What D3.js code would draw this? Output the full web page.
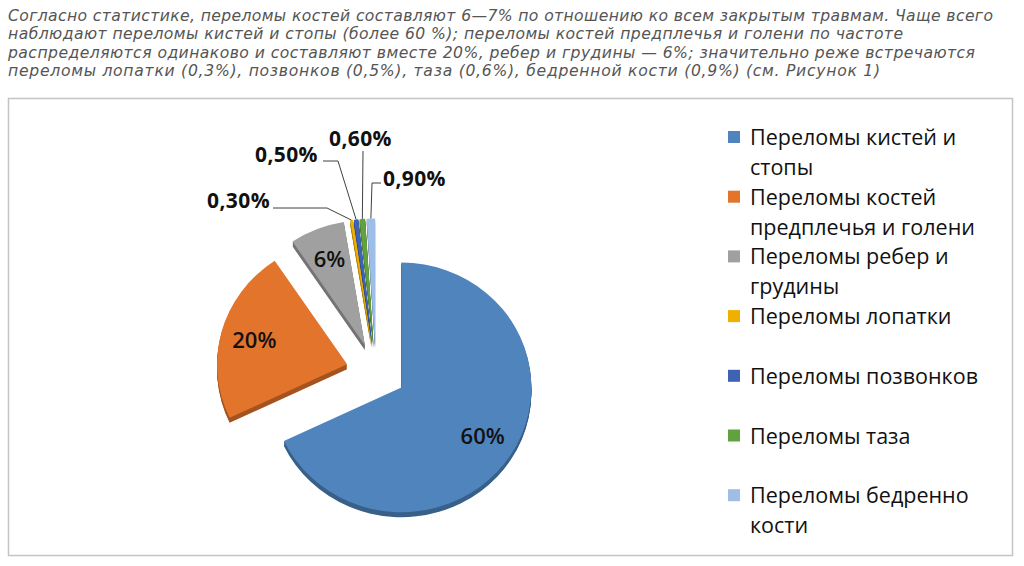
<!DOCTYPE html>
<html>
<head>
<meta charset="utf-8">
<script src="https://cdn.jsdelivr.net/npm/d3@7"></script>
<style>
  body { margin: 0; background: #fff; }
  svg { display: block; }
</style>
</head>
<body>
<div id="chart"></div>
<script>
const width = 1024;
const height = 566;

// Intro paragraph (wrapped as in the source page)
const introLines = [
  "Согласно статистике, переломы костей составляют 6—7% по отношению ко всем закрытым травмам. Чаще всего",
  "наблюдают переломы кистей и стопы (более 60 %); переломы костей предплечья и голени по частоте",
  "распределяются одинаково и составляют вместе 20%, ребер и грудины — 6%; значительно реже встречаются",
  "переломы лопатки (0,3%), позвонков (0,5%), таза (0,6%), бедренной кости (0,9%) (см. Рисунок 1)"
];
const introWidths = [985, 895, 967, 872];

// Chart data
const categories = [
  "Переломы кистей и\nстопы",
  "Переломы костей\nпредплечья и голени",
  "Переломы ребер и\nгрудины",
  "Переломы лопатки",
  "Переломы позвонков",
  "Переломы таза",
  "Переломы бедренно\nкости"
];
const values = [60, 20, 6, 0.3, 0.5, 0.6, 0.9];
const valueLabels = ["60%", "20%", "6%", "0,30%", "0,50%", "0,60%", "0,90%"];
const colors = ["#4f84bd", "#e2742c", "#a0a0a0", "#f0b000", "#3f63b3", "#62a13f", "#9dbfe7"];

const svg = d3.select("#chart").append("svg")
  .attr("width", width)
  .attr("height", height);

// intro text
svg.append("g").selectAll("text")
  .data(introLines)
  .enter().append("text")
  .attr("x", 8)
  .attr("y", (d, i) => 21 + i * 18.4)
  .attr("textLength", (d, i) => introWidths[i])
  .attr("lengthAdjust", "spacing")
  .style("font-family", "'DejaVu Sans', Verdana, sans-serif")
  .style("font-style", "italic")
  .style("font-size", "15.6px")
  .style("fill", "#555")
  .text(d => d);

// chart frame
svg.append("rect")
  .attr("x", 8.5).attr("y", 98.5)
  .attr("width", 1004).attr("height", 457)
  .attr("fill", "#fff")
  .attr("stroke", "#c4c4c4")
  .attr("stroke-width", 1.5);

// pie
const cx = 376, cy = 372, R = 130, sy = 0.96, explode = 30, depth = 5;

const pie = d3.pie().sort(null).value(d => d);
const arcs = pie(values);
const arc = d3.arc().innerRadius(0).outerRadius(R);

const mid = d => (d.startAngle + d.endAngle) / 2;
const off = d => [Math.sin(mid(d)) * explode, -Math.cos(mid(d)) * explode * sy];

const pieG = svg.append("g").attr("transform", `translate(${cx},${cy})`);

// sides (extrusion)
const sides = pieG.selectAll("g.side")
  .data(arcs)
  .enter().append("g")
  .attr("class", "side")
  .attr("transform", d => `translate(${off(d)[0]},${off(d)[1]})`);

sides.each(function(d, i) {
  const g = d3.select(this);
  for (let k = depth; k >= 1; k--) {
    g.append("path")
      .attr("d", arc(d))
      .attr("transform", `translate(0,${k}) scale(1,${sy})`)
      .attr("fill", d3.color(colors[i]).darker(0.9));
  }
});

// top faces
pieG.selectAll("path.top")
  .data(arcs)
  .enter().append("path")
  .attr("class", "top")
  .attr("d", arc)
  .attr("transform", d => `translate(${off(d)[0]},${off(d)[1]}) scale(1,${sy})`)
  .attr("fill", (d, i) => colors[i]);

// labels inside the big slices
const labelArc = d3.arc().innerRadius(R * 0.74).outerRadius(R * 0.74);
pieG.selectAll("text.inner")
  .data(arcs.slice(0, 3))
  .enter().append("text")
  .attr("class", "inner")
  .attr("x", d => off(d)[0] + labelArc.centroid(d)[0])
  .attr("y", d => off(d)[1] + labelArc.centroid(d)[1] * sy)
  .attr("text-anchor", "middle")
  .attr("dy", "0.35em")
  .style("font-family", "'Open Sans', sans-serif")
  .style("font-weight", "600")
  .style("font-size", "22px")
  .style("fill", "#111")
  .text((d, i) => valueLabels[i]);

// small slice labels with leader lines
// label anchor (relative to pie centre) and elbow point
const leaders = [
  { label: [-106, -164], anchor: "end",   from: [-103, -164], elbow: [-49, -164] },
  { label: [-121, -210], anchor: "start", from: [-53, -211], elbow: [-38, -211] },
  { label: [-47, -226],  anchor: "start", from: [-13, -221], elbow: [-13, -221] },
  { label: [7, -186],    anchor: "start", from: [5, -189],   elbow: [-4, -189] }
];

const outerPoint = d => {
  const a = mid(d);
  return [off(d)[0] + Math.sin(a) * R, off(d)[1] - Math.cos(a) * R * sy];
};

arcs.slice(3).forEach((d, j) => {
  const L = leaders[j];
  const p = outerPoint(d);
  pieG.append("polyline")
    .attr("points", [L.from, L.elbow, p].map(q => q.join(",")).join(" "))
    .attr("fill", "none")
    .attr("stroke", "#404040")
    .attr("stroke-width", 1);
  pieG.append("text")
    .attr("x", L.label[0])
    .attr("y", L.label[1])
    .attr("text-anchor", L.anchor)
    .style("font-family", "'Open Sans', sans-serif")
    .style("font-weight", "700")
    .style("font-size", "21px")
    .style("letter-spacing", "0.4px")
    .style("fill", "#111")
    .text(valueLabels[j + 3]);
});

// legend
const legend = svg.append("g").attr("transform", "translate(728,137)");
const item = legend.selectAll("g")
  .data(categories)
  .enter().append("g")
  .attr("transform", (d, i) => `translate(0,${i * 59.7})`);

item.append("rect")
  .attr("x", 0).attr("y", -6)
  .attr("width", 12).attr("height", 12)
  .attr("fill", (d, i) => colors[i]);

item.append("text")
  .attr("x", 22)
  .attr("y", 8)
  .style("font-family", "'Open Sans', sans-serif")
  .style("font-size", "21.5px")
  .style("fill", "#111")
  .selectAll("tspan")
  .data(d => d.split("\n"))
  .enter().append("tspan")
  .attr("x", 22)
  .attr("dy", (d, i) => i === 0 ? 0 : 30)
  .text(d => d);
</script>
</body>
</html>
